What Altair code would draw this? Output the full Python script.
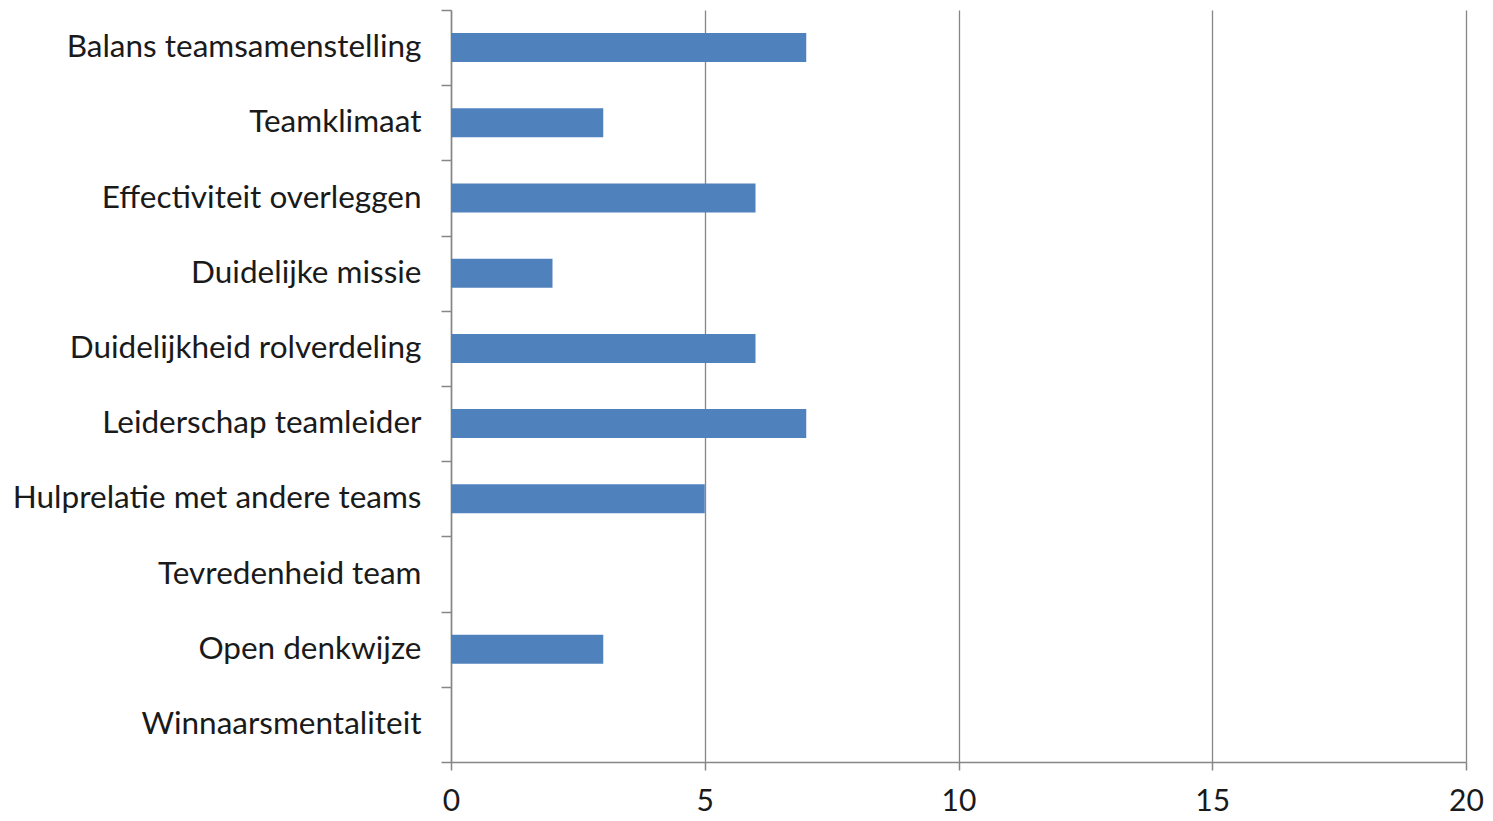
import altair as alt
import pandas as pd

categories = [
    "Balans teamsamenstelling",
    "Teamklimaat",
    "Effectiviteit overleggen",
    "Duidelijke missie",
    "Duidelijkheid rolverdeling",
    "Leiderschap teamleider",
    "Hulprelatie met andere teams",
    "Tevredenheid team",
    "Open denkwijze",
    "Winnaarsmentaliteit",
]
values = [7, 3, 6, 2, 6, 7, 5, 0, 3, 0]
x_ticks = [0, 5, 10, 15, 20]

df = pd.DataFrame({"categorie": categories, "waarde": values})

AXIS_GREY = "#868686"
FONT = "Lato"
FS = 31.5

chart = (
    alt.Chart(df)
    .mark_bar(size=29, color="#4F81BD")
    .encode(
        x=alt.X(
            "waarde:Q",
            scale=alt.Scale(domain=[0, 20], nice=False),
            axis=alt.Axis(
                values=x_ticks,
                title=None,
                grid=True,
                gridColor=AXIS_GREY,
                gridWidth=1.3,
                domainColor=AXIS_GREY,
                domainWidth=1.5,
                tickColor=AXIS_GREY,
                tickWidth=1.5,
                tickSize=8,
                labelPadding=16,
                labelFlush=False,
                labelFont=FONT,
                labelFontSize=30,
                labelColor="#1a1a1a",
            ),
        ),
        y=alt.Y(
            "categorie:N",
            sort=categories,
            scale=alt.Scale(paddingInner=0, paddingOuter=0),
            axis=alt.Axis(
                title=None,
                grid=False,
                tickBand="extent",
                domainColor=AXIS_GREY,
                domainWidth=1.5,
                tickColor=AXIS_GREY,
                tickWidth=1.5,
                tickSize=10,
                labelPadding=20,
                labelFont=FONT,
                labelFontSize=FS,
                labelColor="#1a1a1a",
                labelLimit=600,
            ),
        ),
    )
    .properties(
        width=1015,
        height=752,
        background="white",
        autosize=alt.AutoSizeParams(type="none"),
        padding={"left": 443, "top": 2, "right": 19, "bottom": 57},
    )
    .configure_view(stroke="transparent", strokeWidth=0)
)

chart.save("out.html", embed_options={"renderer": "svg", "actions": False})
